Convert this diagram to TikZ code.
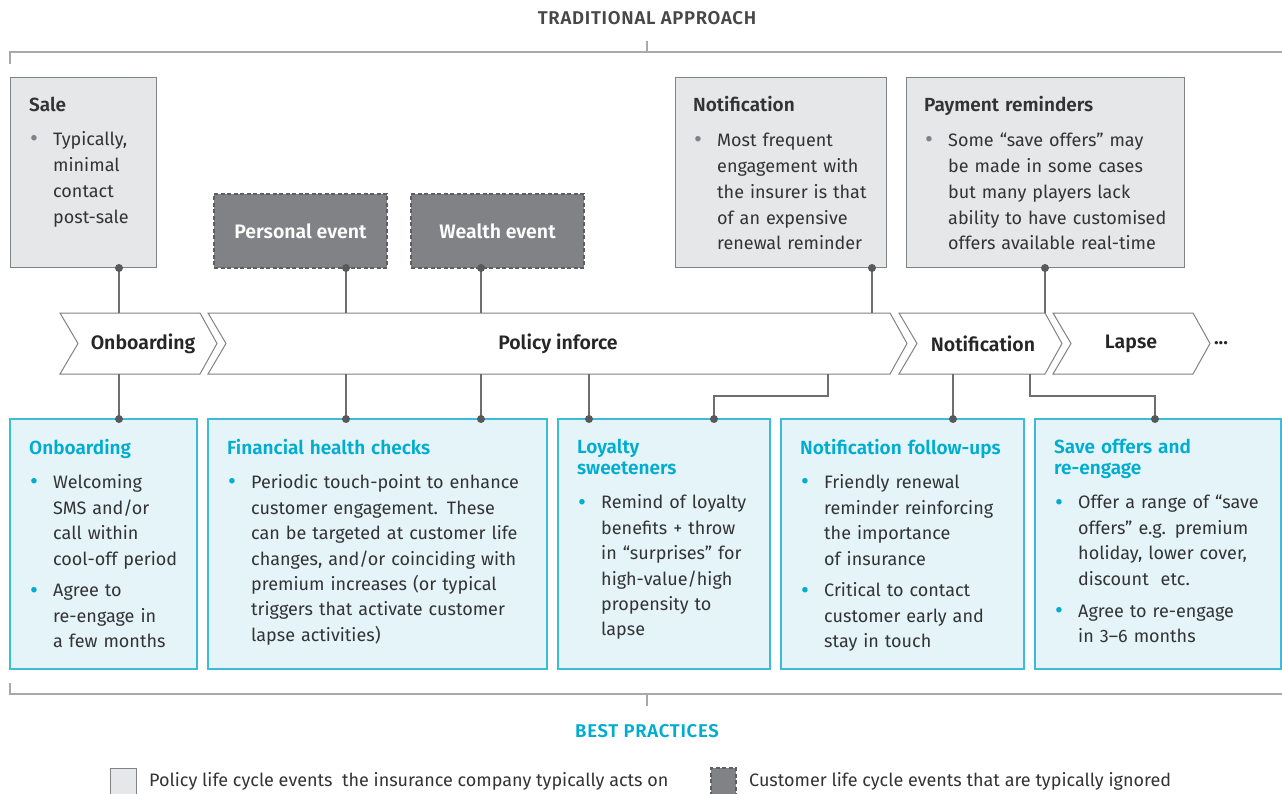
\documentclass[tikz,border=0pt]{standalone}
\usepackage{fontspec}
\IfFontExistsTF{Fira Sans SemiBold}
  {\setmainfont{Fira Sans}[BoldFont={Fira Sans SemiBold}]}
  {\setmainfont{Fira Sans}}
\usepackage{tikz}
\usetikzlibrary{positioning}

\definecolor{framegray}{HTML}{808285}
\definecolor{boxgray}{HTML}{E6E7E8}
\definecolor{evgray}{HTML}{808285}
\definecolor{evline}{HTML}{5E5F61}
\definecolor{linkgray}{HTML}{6D6E71}
\definecolor{dotgray}{HTML}{58595B}
\definecolor{rulegray}{HTML}{A7A9AC}
\definecolor{inkgray}{HTML}{333335}
\definecolor{bpcyan}{HTML}{00ADD0}
\definecolor{bpline}{HTML}{3DBCDA}
\definecolor{bpfill}{HTML}{E4F4F8}

\colorlet{headcol}{inkgray}
\colorlet{dotcol}{framegray}

% box heading, bullet and gap between bullets
\newcommand{\btitle}[1]{{\bfseries\fontsize{19}{21}\selectfont\color{headcol}#1\par}\vspace{9pt}}
\newcommand{\bitem}{\par\hangindent=24pt\hangafter=1\noindent
  \makebox[24pt][l]{\hspace{1pt}\textcolor{dotcol}{\raisebox{-0.06em}{\scalebox{1.35}{\textbullet}}}}}
\newcommand{\bgap}{\par\vspace{6.5pt}}

\begin{document}
\begin{tikzpicture}[x=1pt,y=-1pt,
  oldbox/.style={draw=framegray, fill=boxgray, line width=1pt, inner sep=0pt, outer sep=0pt, anchor=north west},
  lifebox/.style={draw=evline, fill=evgray, dash pattern=on 4pt off 2.5pt, line width=1.3pt,
    inner sep=0pt, outer sep=0pt, anchor=north west, text=white, font=\bfseries\fontsize{19.5}{21}\selectfont},
  newbox/.style={draw=bpline, fill=bpfill, line width=1.2pt, inner sep=0pt, outer sep=0pt, anchor=north west},
  boxtext/.style={inner sep=0pt, text=inkgray, font=\fontsize{18}{25.8}\selectfont,
    execute at begin node=\raggedright},
  newtext/.style={boxtext, font=\fontsize{18}{25.4}\selectfont,
    execute at begin node={\colorlet{headcol}{bpcyan}\colorlet{dotcol}{bpcyan}}},
  stageline/.style={draw=framegray, line width=1pt, fill=white},
  stagetxt/.style={inner sep=0pt, outer sep=0pt, minimum height=61pt, text=black!85, font=\bfseries\fontsize{19.5}{21}\selectfont},
  link/.style={draw=linkgray, line width=1.2pt},
  bracket/.style={draw=rulegray, line width=1.2pt},
  dot/.style={circle, fill=dotgray, inner sep=0pt, minimum size=8pt},
  heading/.style={font=\bfseries\fontsize{18.5}{20}\selectfont\addfontfeature{LetterSpace=4}},
  keytext/.style={anchor=west, inner sep=0pt, text=inkgray, font=\fontsize{18}{20}\selectfont}]

\useasboundingbox (0,0) rectangle (1282,794);

% top bracket
\node[heading, text=black!72] (trad) at (647,18) {TRADITIONAL APPROACH};
\draw[bracket] (10,64) -- (10,52) -- (1282,52);
\draw[bracket] (647,41) -- (647,52);

% policy events
\node[oldbox, minimum width=146pt, minimum height=190pt] (sale) at (10,78) {};
\node[lifebox, minimum width=173pt, minimum height=74pt] (personal) at (214,194) {Personal event};
\node[lifebox, minimum width=173pt, minimum height=74pt] (wealth) at (411,194) {Wealth event};
\node[oldbox, minimum width=211pt, minimum height=190pt] (oldnotif) at (675,78) {};
\node[oldbox, minimum width=278pt, minimum height=190pt] (payrem) at (906,78) {};

\node[boxtext, text width=130pt, below right=18.5pt and 19pt of sale.north west] (saletxt)
  {\btitle{Sale}\bitem Typically,\newline minimal\newline contact\newline post-sale\par};
\node[boxtext, text width=260pt, below right=18.5pt and 18pt of oldnotif.north west] (oldnotiftxt)
  {\btitle{Notification}\bitem Most frequent\newline engagement with\newline the insurer is that\newline of an expensive\newline renewal reminder\par};
\node[boxtext, text width=260pt, below right=18.5pt and 18pt of payrem.north west] (payremtxt)
  {\btitle{Payment reminders}\bitem Some “save offers” may\newline be made in some cases\newline but many players lack\newline ability to have customised\newline offers available real-time\par};

% life cycle stages
\draw[stageline] (60,313) -- (200,313) -- (217,343.5) -- (200,374) -- (60,374) -- (78,343.5) -- cycle;
\draw[stageline] (208,313) -- (890,313) -- (907,343.5) -- (890,374) -- (208,374) -- (226,343.5) -- cycle;
\draw[stageline] (899,313) -- (1045,313) -- (1062,343.5) -- (1045,374) -- (899,374) -- (917,343.5) -- cycle;
\draw[stageline] (1053,313) -- (1193,313) -- (1210,343.5) -- (1193,374) -- (1053,374) -- (1071,343.5) -- cycle;
\node[stagetxt] (onbd) at (143,343.5) {Onboarding};
\node[stagetxt] (inforce) at (558,343.5) {Policy inforce};
\node[stagetxt] (notif) at (983,343.5) {Notification};
\node[stagetxt] (lapse) at (1131,343.5) {Lapse};
\node[stagetxt, anchor=west] (more) at (1214,343.5) {...};

% best practices
\node[newbox, minimum width=187pt, minimum height=250pt] (newonbd) at (10,419) {};
\node[newbox, minimum width=339pt, minimum height=250pt] (health) at (208,419) {};
\node[newbox, minimum width=212pt, minimum height=250pt] (loyal) at (558,419) {};
\node[newbox, minimum width=243pt, minimum height=250pt] (followup) at (781,419) {};
\node[newbox, minimum width=246pt, minimum height=250pt] (saveoff) at (1035,419) {};

\node[newtext, text width=200pt, below right=20pt and 19pt of newonbd.north west] (newonbdtxt)
  {\btitle{Onboarding}\bitem Welcoming\newline SMS and/or\newline call within\newline cool-off period\bgap
   \bitem Agree to\newline re-engage in\newline a few months\par};
\node[newtext, text width=360pt, below right=20pt and 19pt of health.north west] (healthtxt)
  {\btitle{Financial health checks}\bitem Periodic touch-point to enhance\newline customer engagement. These\newline can be targeted at customer life\newline changes, and/or coinciding with\newline premium increases (or typical\newline triggers that activate customer\newline lapse activities)\par};
\node[newtext, text width=240pt, below right=20pt and 19pt of loyal.north west] (loyaltxt)
  {\btitle{Loyalty\newline sweeteners}\bitem Remind of loyalty\newline benefits + throw\newline in “surprises” for\newline high-value/high\newline propensity to\newline lapse\par};
\node[newtext, text width=260pt, below right=20pt and 19pt of followup.north west] (followuptxt)
  {\btitle{Notification follow-ups}\bitem Friendly renewal\newline reminder reinforcing\newline the importance\newline of insurance\bgap
   \bitem Critical to contact\newline customer early and\newline stay in touch\par};
\node[newtext, text width=260pt, below right=20pt and 19pt of saveoff.north west] (saveofftxt)
  {\btitle{Save offers and\newline re-engage}\bitem Offer a range of “save\newline offers” e.g. premium\newline holiday, lower cover,\newline discount\ \ etc.\bgap
   \bitem Agree to re-engage\newline in 3–6 months\par};

% connectors from events to stages
\draw[link] (sale.south -| 119,0) node[dot]{} -- (onbd.north -| 119,0);
\draw[link] (personal.south -| 346,0) node[dot]{} -- (inforce.north -| 346,0);
\draw[link] (wealth.south -| 481,0) node[dot]{} -- (inforce.north -| 481,0);
\draw[link] (oldnotif.south -| 872,0) node[dot]{} -- (inforce.north -| 872,0);
\draw[link] (payrem.south -| 1045,0) node[dot]{} -- (notif.north -| 1045,0);

% connectors from stages to best practices
\draw[link] (onbd.south -| 119,0) -- (newonbd.north -| 119,0) node[dot]{};
\draw[link] (inforce.south -| 346,0) -- (health.north -| 346,0) node[dot]{};
\draw[link] (inforce.south -| 481,0) -- (health.north -| 481,0) node[dot]{};
\draw[link] (inforce.south -| 589,0) -- (loyal.north -| 589,0) node[dot]{};
\draw[link] (inforce.south -| 828,0) -- (828,396) -- (714,396) -- (loyal.north -| 714,0) node[dot]{};
\draw[link] (notif.south -| 953,0) -- (followup.north -| 953,0) node[dot]{};
\draw[link] (notif.south -| 1030,0) -- (1030,396) -- (1155,396) -- (saveoff.north -| 1155,0) node[dot]{};

% bottom bracket
\draw[bracket] (10,683) -- (10,694) -- (1282,694);
\draw[bracket] (647,694) -- (647,706);
\node[heading, text=bpcyan] (best) at (647,731) {BEST PRACTICES};

% legend
\node[oldbox, minimum width=26pt, minimum height=30pt] (keyold) at (110,768) {};
\node[keytext] (keyoldtxt) at (149,781) {Policy life cycle events\ \ the insurance company typically acts on};
\node[lifebox, minimum width=25pt, minimum height=30pt] (keylife) at (711,768) {};
\node[keytext] (keylifetxt) at (749,781) {Customer life cycle events that are typically ignored};

\end{tikzpicture}
\end{document}
